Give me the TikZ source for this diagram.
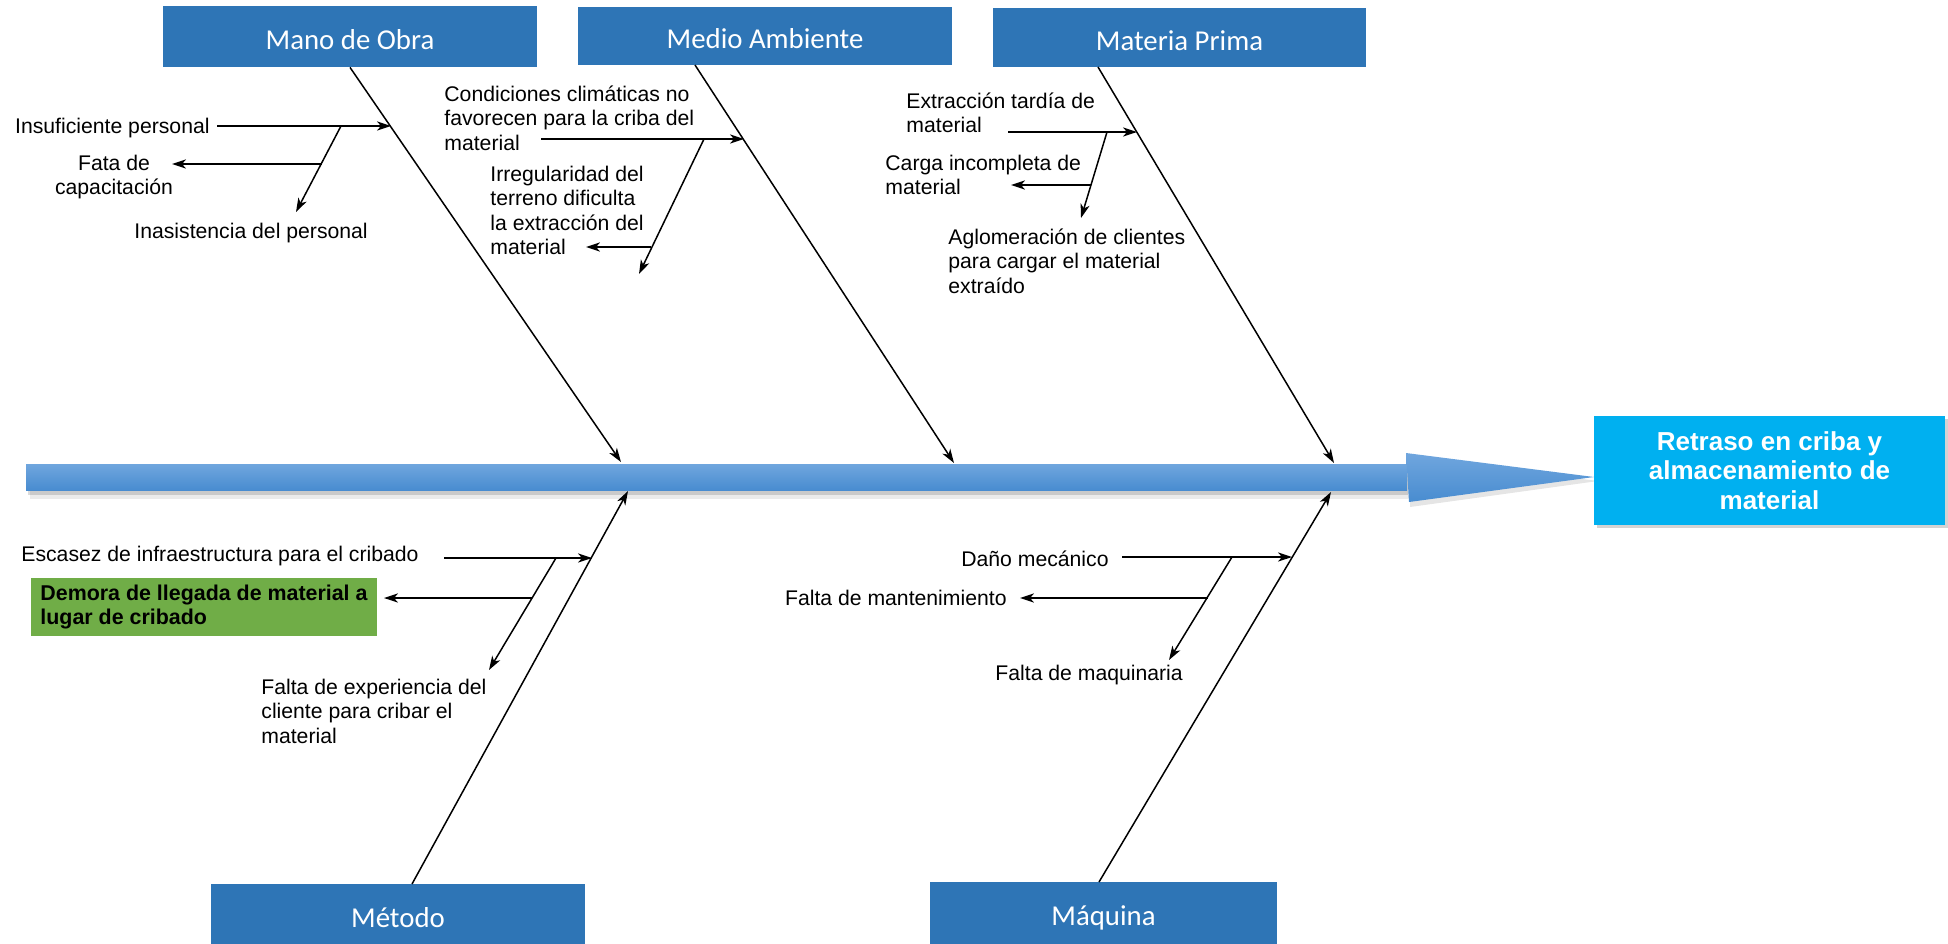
\documentclass[tikz,border=0pt]{standalone}
\usepackage{fontspec}
\setmainfont{Liberation Sans}
\newfontfamily\titlefont{Carlito}
\usetikzlibrary{arrows.meta,shadows}

\definecolor{catblue}{RGB}{46,117,182}
\definecolor{effectcyan}{RGB}{0,176,240}
\definecolor{spinetop}{RGB}{112,166,222}
\definecolor{spinebot}{RGB}{72,140,208}
\definecolor{causegreen}{RGB}{112,173,71}

\begin{document}
\begin{tikzpicture}[x=0.5pt,y=-0.5pt,
  catbox/.style={fill=catblue, text=white, inner sep=0pt,
    font=\titlefont\fontsize{14.4}{16}\selectfont,
    text height=14.5pt, text depth=2pt},
  bone/.style={line width=0.75pt, -{Stealth[length=7pt,width=4.6pt,inset=2pt]}},
  lbl/.style={inner sep=0pt, font=\fontsize{10.6}{12.2}\selectfont, align=left},
]
\useasboundingbox (0,0) rectangle (1948,943);

% ---------- spine: shadow, bar and head ----------
\fill[black, opacity=0.08] (30,466) rectangle (1410,499);
\fill[black, opacity=0.14] (28,466) rectangle (1408,495);
\fill[black, opacity=0.10] (1410,457) -- (1598,481) -- (1410,507) -- cycle;
\shade[top color=spinetop, bottom color=spinebot] (26,464) rectangle (1407,490);
\shade[top color=spinetop, bottom color=spinebot]
  (1406,453) -- (1594,477) -- (1409,502) -- cycle;

% ---------- effect ----------
\node[fill=effectcyan, text=white, inner sep=0pt, align=center,
      font=\bfseries\fontsize{13}{14.6}\selectfont,
      minimum width=175.5pt, minimum height=54.5pt,
      drop shadow={shadow xshift=1.5pt, shadow yshift=-1.5pt, opacity=0.35}]
  (effect) at (1769.5,470.5) {Retraso en criba y\\almacenamiento de\\material};

% ---------- category boxes ----------
\node[catbox, minimum width=187pt, minimum height=30.5pt] (mano)    at (350,36.5)   {Mano de Obra};
\node[catbox, minimum width=187pt, minimum height=29pt]   (medio)   at (765,36)     {Medio Ambiente};
\node[catbox, minimum width=186.5pt, minimum height=29.5pt] (materia) at (1179.5,37.5) {Materia Prima};
\node[catbox, minimum width=187pt, minimum height=31pt]   (metodo)  at (398,915)    {Método};
\node[catbox, minimum width=173.5pt, minimum height=31pt] (maquina) at (1103.5,913) {Máquina};

% ---------- bone roots and tips ----------
\coordinate (medioRoot)   at (695,65);
\coordinate (materiaRoot) at (1098,67);
\coordinate (metodoRoot)  at (412,884);
\coordinate (maquinaRoot) at (1099,882);
\coordinate (manoTip)     at (621,462);
\coordinate (medioTip)    at (954,463);
\coordinate (materiaTip)  at (1334,463);
\coordinate (metodoTip)   at (628,491);
\coordinate (maquinaTip)  at (1331,492);

\draw[bone] (mano.south)   -- (manoTip);
\draw[bone] (medioRoot)    -- (medioTip);
\draw[bone] (materiaRoot)  -- (materiaTip);
\draw[bone] (metodoRoot)   -- (metodoTip);
\draw[bone] (maquinaRoot)  -- (maquinaTip);

% ---------- Mano de Obra ----------
\node[lbl, anchor=base east] (tIns) at (210,133) {Insuficiente personal};
\node[lbl, align=center, anchor=north] (tFata) at (114,154.5) {Fata de\\capacitación};
\node[lbl, anchor=base west] (tInas) at (134,238) {Inasistencia del personal};
\coordinate (insA) at (217,126);  \coordinate (insB) at (391,126);
\coordinate (manoD1) at (341,126); \coordinate (manoD2) at (296,212);
\coordinate (fataA) at (322,164); \coordinate (fataB) at (172,164);
\draw[bone] (insA) -- (insB);
\draw[bone] (manoD1) -- (manoD2);
\draw[bone] (fataA) -- (fataB);

% ---------- Medio Ambiente ----------
\node[lbl, anchor=north west] (tCond) at (444,85.5)
  {Condiciones climáticas no\\favorecen para la criba del\\material};
\node[lbl, anchor=north west] (tIrr) at (490,165.5)
  {Irregularidad del\\terreno dificulta\\la extracción del\\material};
\coordinate (condA) at (541,139); \coordinate (condB) at (744,139);
\coordinate (medioD1) at (704,139); \coordinate (medioD2) at (639,274);
\coordinate (irrA) at (651,247); \coordinate (irrB) at (586,247);
\draw[bone] (condA) -- (condB);
\draw[bone] (medioD1) -- (medioD2);
\draw[bone] (irrA) -- (irrB);

% ---------- Materia Prima ----------
\node[lbl, anchor=north west] (tExt) at (906,92.5) {Extracción tardía de\\material};
\node[lbl, anchor=north west] (tCarga) at (885,154.5) {Carga incompleta de\\material};
\node[lbl, anchor=north west] (tAglo) at (948,228.5)
  {Aglomeración de clientes\\para cargar el material\\extraído};
\coordinate (extA) at (1008,132); \coordinate (extB) at (1137,132);
\coordinate (materiaD1) at (1107,132); \coordinate (materiaD2) at (1081,218);
\coordinate (cargaA) at (1091,185); \coordinate (cargaB) at (1011,185);
\draw[bone] (extA) -- (extB);
\draw[bone] (materiaD1) -- (materiaD2);
\draw[bone] (cargaA) -- (cargaB);

% ---------- Método ----------
\node[lbl, anchor=base west] (tEsc) at (21,561) {Escasez de infraestructura para el cribado};
\node[fill=causegreen, inner sep=0pt, align=left,
      minimum width=173pt, minimum height=29pt,
      font=\bfseries\fontsize{10.7}{11.8}\selectfont]
  (tDemora) at (204,607) {Demora de llegada de material a\\lugar de cribado};
\node[lbl, anchor=north west] (tExp) at (261,678.5)
  {Falta de experiencia del\\cliente para cribar el\\material};
\coordinate (escA) at (444,558); \coordinate (escB) at (592,558);
\coordinate (metodoD1) at (556,558); \coordinate (metodoD2) at (489,670);
\coordinate (demA) at (532,598); \coordinate (demB) at (384,598);
\draw[bone] (escA) -- (escB);
\draw[bone] (metodoD1) -- (metodoD2);
\draw[bone] (demA) -- (demB);

% ---------- Máquina ----------
\node[lbl, anchor=base east] (tDano) at (1109,566) {Daño mecánico};
\node[lbl, anchor=base east] (tMant) at (1007,605) {Falta de mantenimiento};
\node[lbl, anchor=base west] (tMaq) at (995,680) {Falta de maquinaria};
\coordinate (danoA) at (1122,557); \coordinate (danoB) at (1292,557);
\coordinate (maquinaD1) at (1232,557); \coordinate (maquinaD2) at (1169,660);
\coordinate (mantA) at (1208,598); \coordinate (mantB) at (1020,598);
\draw[bone] (danoA) -- (danoB);
\draw[bone] (maquinaD1) -- (maquinaD2);
\draw[bone] (mantA) -- (mantB);
\end{tikzpicture}
\end{document}
